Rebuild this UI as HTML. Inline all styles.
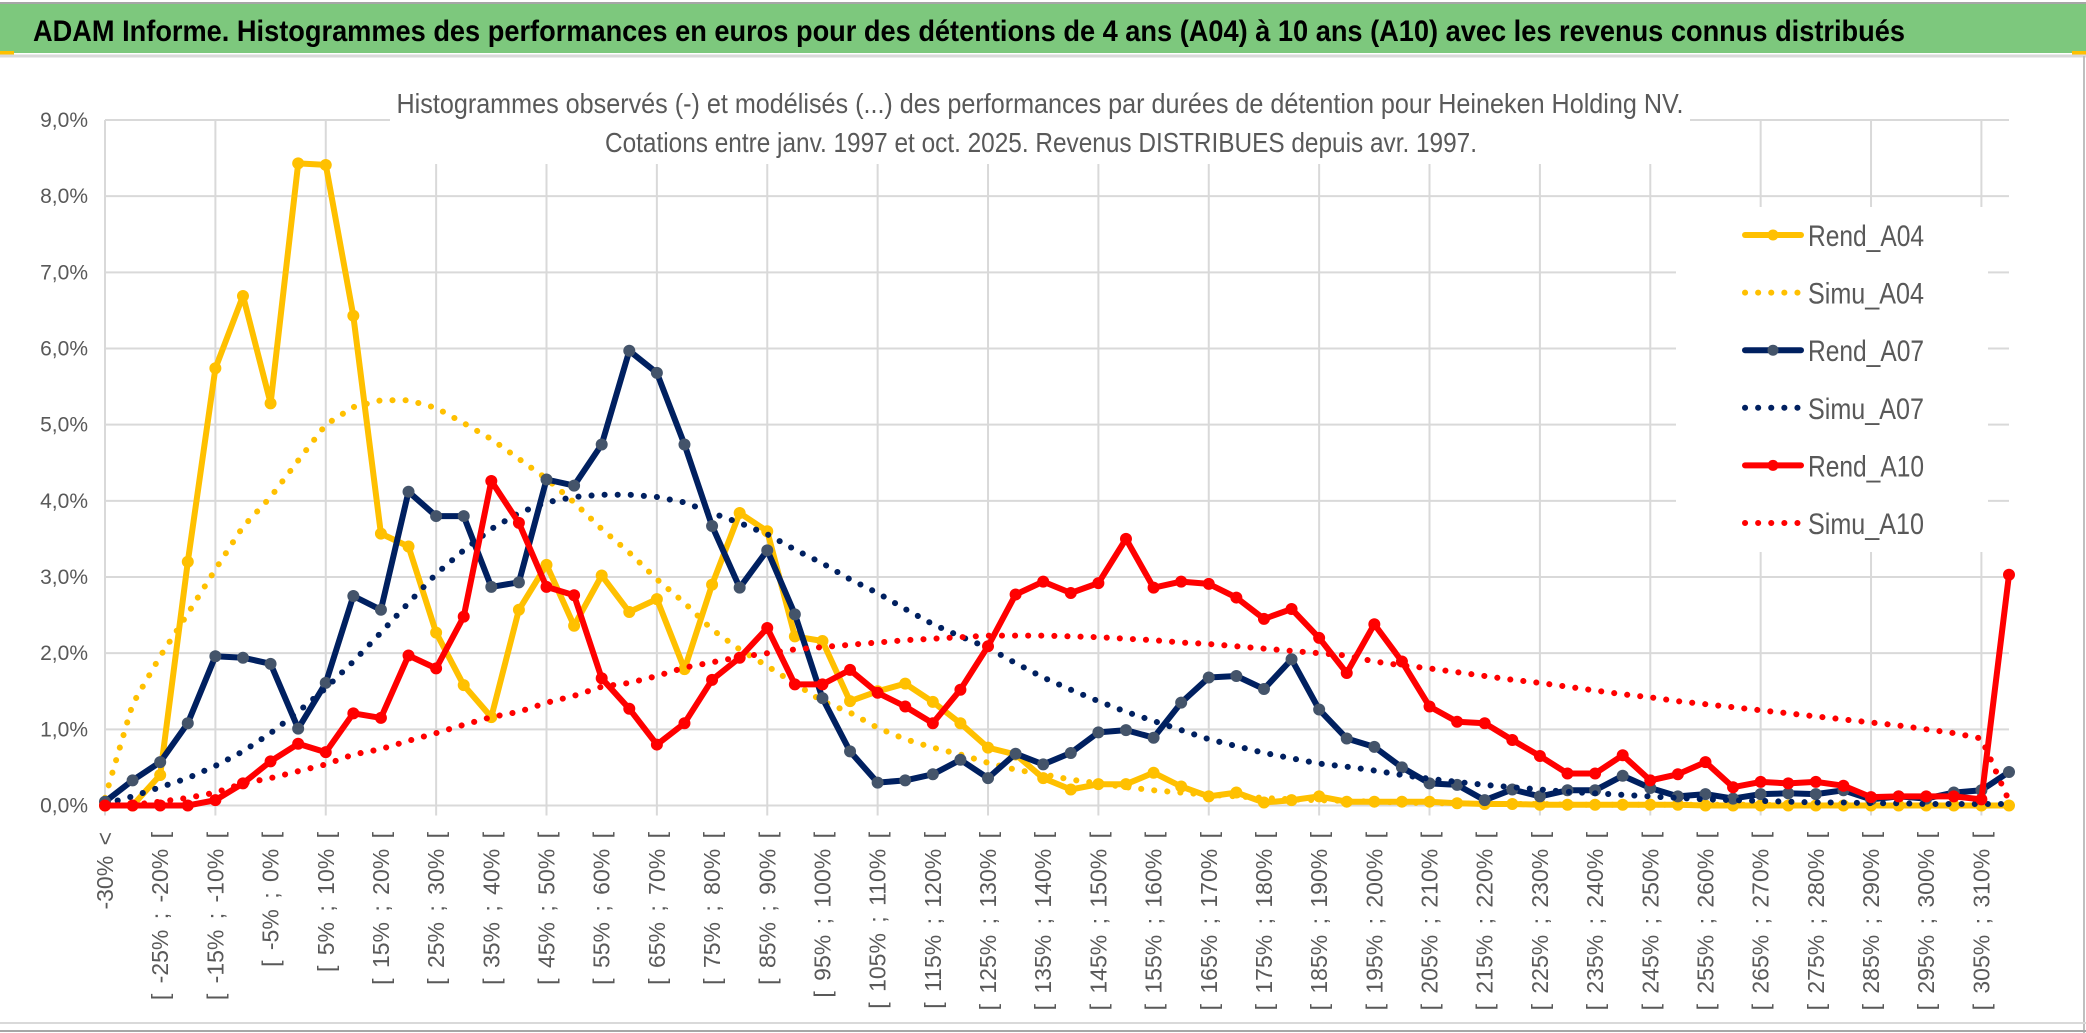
<!DOCTYPE html>
<html><head><meta charset="utf-8">
<style>
html,body{margin:0;padding:0;background:#fff;}
body{width:2086px;height:1033px;overflow:hidden;position:relative;font-family:"Liberation Sans",sans-serif;}
#header{position:absolute;left:0;top:2px;width:2086px;height:51px;background:#7DC87D;border-top:2px solid #a6a6a6;box-sizing:border-box;}
svg{position:absolute;left:0;top:0;}
</style></head>
<body>
<div id="header"></div>
<svg id="chart" width="2086" height="1033">
  <rect x="0" y="51" width="14" height="4" fill="#FFC000"/>
  <rect x="2072" y="51" width="14" height="4" fill="#FFC000"/>
  <line x1="0" y1="56" x2="2086" y2="56" stroke="#d9d9d9" stroke-width="3"/>
  <line x1="2084" y1="56" x2="2084" y2="1033" stroke="#bfbfbf" stroke-width="2"/>
  <line x1="0" y1="1023" x2="2086" y2="1023" stroke="#d9d9d9" stroke-width="2"/>
  <line x1="0" y1="1031" x2="2086" y2="1031" stroke="#a6a6a6" stroke-width="2"/>
  <text x="33" y="41" font-size="30" font-weight="bold" fill="#000" textLength="1872" lengthAdjust="spacingAndGlyphs">ADAM Informe. Histogrammes des performances en euros pour des détentions de 4 ans (A04) à 10 ans (A10) avec les revenus connus distribués</text>
  <g id="grid"></g>
  <g id="yaxis"></g>
  <g id="xaxis"></g>
  <rect x="390" y="62" width="1300" height="102" fill="#fff"/>
  <text x="1040" y="113" font-size="28" fill="#595959" text-anchor="middle" textLength="1287" lengthAdjust="spacingAndGlyphs">Histogrammes observés (-) et modélisés (...) des performances par durées de détention pour Heineken Holding NV.</text>
  <text x="1041" y="152" font-size="28" fill="#595959" text-anchor="middle" textLength="872" lengthAdjust="spacingAndGlyphs">Cotations entre janv. 1997 et oct. 2025. Revenus DISTRIBUES depuis avr. 1997.</text>
  <rect x="1676" y="207" width="312" height="345" fill="#fff"/>
  <g id="series"></g>
  <g id="legend"></g>
</svg>
<script>
const categories = [];
for (let i = 0; i < 70; i++) {
  categories.push(i === 0 ? "-30% <" : "[ " + (-35 + 5 * i) + "% ; " + (-30 + 5 * i) + "% [");
}
const yTicks = [0,1,2,3,4,5,6,7,8,9];
const yTickLabels = ["0,0%","1,0%","2,0%","3,0%","4,0%","5,0%","6,0%","7,0%","8,0%","9,0%"];
const rendA04 = [0,0,0.4,3.2,5.74,6.69,5.28,8.43,8.41,6.43,3.57,3.40,2.27,1.58,1.16,2.57,3.16,2.36,3.02,2.54,2.71,1.79,2.90,3.84,3.60,2.22,2.16,1.37,1.50,1.60,1.36,1.08,0.76,0.67,0.36,0.21,0.28,0.28,0.43,0.25,0.12,0.17,0.04,0.07,0.12,0.05,0.05,0.05,0.05,0.03,0.02,0.02,0.01,0.01,0.01,0.01,0.01,0.01,0,0,0,0,0,0,0,0,0,0,0,0];
const simuA04 = [0.1,1.33,1.96,2.52,3.1,3.66,4.05,4.53,5.0,5.23,5.32,5.32,5.22,5.02,4.81,4.55,4.29,3.98,3.63,3.32,2.97,2.66,2.31,2.05,1.83,1.60,1.37,1.22,1.02,0.87,0.76,0.67,0.56,0.47,0.41,0.34,0.29,0.24,0.20,0.17,0.14,0.12,0.10,0.08,0.07,0.06,0.05,0.04,0.03,0.03,0.02,0.02,0.02,0.01,0.01,0.01,0.01,0.01,0.01,0.01,0.01,0,0,0,0,0,0,0,0,0];
const rendA07 = [0.05,0.33,0.57,1.08,1.96,1.94,1.86,1.01,1.61,2.75,2.57,4.12,3.8,3.8,2.87,2.93,4.28,4.2,4.74,5.97,5.68,4.74,3.67,2.86,3.35,2.51,1.41,0.71,0.30,0.33,0.41,0.60,0.36,0.68,0.54,0.69,0.96,0.99,0.89,1.35,1.68,1.70,1.53,1.92,1.26,0.88,0.77,0.50,0.29,0.27,0.07,0.21,0.12,0.2,0.2,0.39,0.23,0.12,0.15,0.09,0.15,0.16,0.15,0.2,0.08,0.12,0.09,0.17,0.2,0.44];
const simuA07 = [0.02,0.12,0.24,0.36,0.52,0.71,0.95,1.23,1.54,1.89,2.27,2.66,3.04,3.35,3.63,3.84,3.98,4.05,4.08,4.08,4.05,3.98,3.84,3.71,3.56,3.36,3.18,2.97,2.79,2.58,2.38,2.22,2.07,1.87,1.68,1.52,1.37,1.23,1.11,0.99,0.87,0.78,0.69,0.62,0.55,0.51,0.46,0.40,0.35,0.31,0.27,0.24,0.21,0.18,0.16,0.14,0.12,0.10,0.08,0.07,0.06,0.05,0.04,0.04,0.03,0.03,0.02,0.02,0.02,0.02];
const rendA10 = [0,0,0,0,0.07,0.29,0.58,0.81,0.70,1.21,1.15,1.97,1.80,2.48,4.26,3.71,2.87,2.76,1.67,1.27,0.80,1.08,1.65,1.94,2.33,1.59,1.59,1.78,1.48,1.30,1.08,1.52,2.09,2.77,2.94,2.79,2.92,3.50,2.86,2.94,2.91,2.73,2.45,2.58,2.20,1.74,2.38,1.89,1.30,1.10,1.08,0.86,0.65,0.42,0.42,0.66,0.33,0.41,0.57,0.24,0.31,0.29,0.31,0.26,0.11,0.12,0.12,0.12,0.08,3.03];
const simuA10 = [0,0.01,0.05,0.10,0.17,0.29,0.36,0.45,0.54,0.67,0.74,0.85,0.95,1.06,1.16,1.23,1.35,1.44,1.56,1.61,1.70,1.81,1.88,1.95,2.0,2.05,2.08,2.11,2.14,2.17,2.19,2.21,2.23,2.23,2.23,2.22,2.21,2.19,2.17,2.14,2.12,2.09,2.06,2.03,2.0,1.97,1.89,1.84,1.80,1.75,1.70,1.65,1.61,1.56,1.51,1.46,1.42,1.37,1.33,1.29,1.25,1.21,1.17,1.13,1.09,1.05,1.0,0.95,0.88,0.06];
const seriesNames = ["Rend_A04","Simu_A04","Rend_A07","Simu_A07","Rend_A10","Simu_A10"];

const NS = "http://www.w3.org/2000/svg";
const X0 = 105, X1 = 2009, Y0 = 805.5, Y9 = 120;
function xScale(i){ return X0 + (X1 - X0) * i / (categories.length - 1); }
function yScale(v){ return Y0 - (Y0 - Y9) * v / 9; }
function mk(tag, attrs, parent){
  const e = document.createElementNS(NS, tag);
  for (const k in attrs) e.setAttribute(k, attrs[k]);
  parent.appendChild(e); return e;
}
const grid = document.getElementById('grid');
const yaxis = document.getElementById('yaxis');
const xaxis = document.getElementById('xaxis');
yTicks.forEach((t, k) => {
  const l = mk('line', {x1: X0, x2: X1, y1: yScale(t), y2: yScale(t), stroke: '#d9d9d9', 'stroke-width': 2}, grid);
  
  
  const tx = mk('text', {x: 88, y: yScale(t) + 7, 'font-size': 21, fill: '#595959', 'text-anchor': 'end'}, yaxis);
  tx.textContent = yTickLabels[k];
  
  
});
for (let i = 0; i < categories.length; i += 4) {
  const l = mk('line', {x1: xScale(i), x2: xScale(i), y1: Y9, y2: Y0 + 10, stroke: '#d9d9d9', 'stroke-width': 2}, grid);
  
  
}
for (let i = 0; i < categories.length; i += 2) {
  const x = xScale(i) + 8, y = 832;
  const tx = mk('text', {x: x, y: y, 'font-size': 23, 'word-spacing': 4, fill: '#595959', 'text-anchor': 'end', transform: 'rotate(-90 ' + x + ' ' + y + ')'}, xaxis);
  tx.textContent = categories[i];
  
  
}
const seriesG = document.getElementById('series');
function drawSeries(vals, color, dotted, markerFill, name){
  const g = mk('g', {}, seriesG);
  
  
  const pts = vals.map((v, i) => xScale(i).toFixed(1) + ',' + yScale(v).toFixed(1)).join(' ');
  const attrs = {points: pts, fill: 'none', stroke: color, 'stroke-width': 6, 'stroke-linejoin': 'round', 'stroke-linecap': 'round'};
  if (dotted) attrs['stroke-dasharray'] = '0.1 13';
  const pl = mk('polyline', attrs, g);
  
  
  if (!dotted) {
    vals.forEach((v, i) => {
      const c = mk('circle', {cx: xScale(i), cy: yScale(v), r: 5.5, fill: markerFill, stroke: markerFill, 'stroke-width': 1}, g);
      
      
    });
  }
}
drawSeries(rendA04, '#FFC000', false, '#FFC000', 'rend-a04');
drawSeries(simuA04, '#FFC000', true, '#FFC000', 'simu-a04');
drawSeries(rendA07, '#002060', false, '#44546A', 'rend-a07');
drawSeries(simuA07, '#002060', true, '#002060', 'simu-a07');
drawSeries(rendA10, '#FF0000', false, '#FF0000', 'rend-a10');
drawSeries(simuA10, '#FF0000', true, '#FF0000', 'simu-a10');

const legend = document.getElementById('legend');
const legColors = ['#FFC000','#FFC000','#002060','#002060','#FF0000','#FF0000'];
const legMarker = ['#FFC000',null,'#44546A',null,'#FF0000',null];
seriesNames.forEach((n, k) => {
  const y = 235 + k * 57.6;
  const g = mk('g', {}, legend);
  
  
  const attrs = {x1: 1745, x2: 1801, y1: y, y2: y, stroke: legColors[k], 'stroke-width': 6, 'stroke-linecap': 'round'};
  if (!legMarker[k]) attrs['stroke-dasharray'] = '0.1 13';
  mk('line', attrs, g);
  if (legMarker[k]) mk('circle', {cx: 1773, cy: y, r: 5.5, fill: legMarker[k]}, g);
  const t = mk('text', {x: 1808, y: y + 11, 'font-size': 30, fill: '#595959', textLength: 116, lengthAdjust: 'spacingAndGlyphs'}, g);
  t.textContent = n;
});
</script>
</body></html>
